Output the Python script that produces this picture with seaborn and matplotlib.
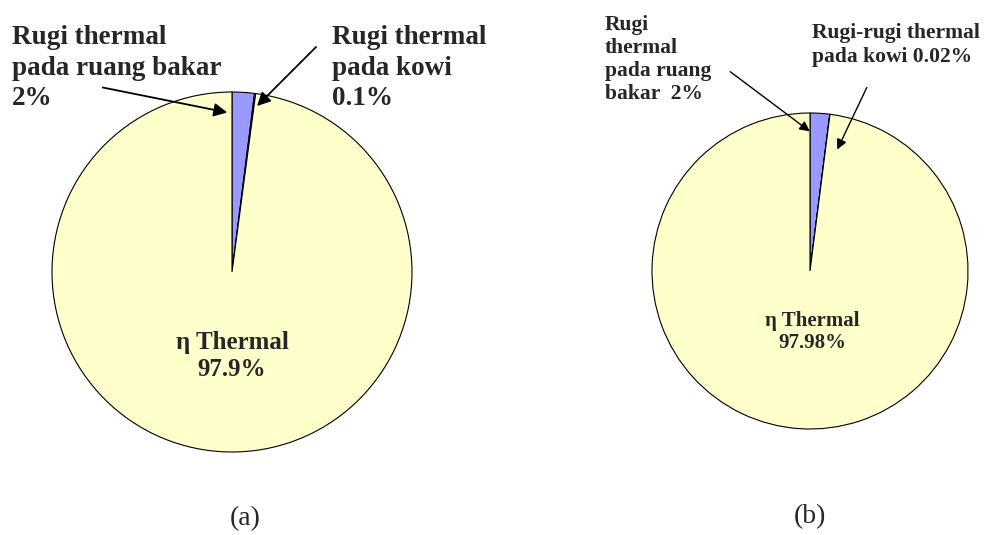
import matplotlib
matplotlib.use("Agg")
import matplotlib.pyplot as plt
import seaborn as sns

# Data: energy balance of the two furnaces (%)
labels = ["Rugi thermal pada ruang bakar", "Rugi thermal pada kowi", "η Thermal"]
values_a = [2, 0.1, 97.9]
values_b = [2, 0.02, 97.98]
colors = ["#9999FF", "#333366", "#FFFFCC"]

sns.set_theme(style="white")
plt.rcParams["font.family"] = ["Liberation Serif", "DejaVu Serif"]

fig = plt.figure(figsize=(9.94, 5.35), dpi=100)
W, H = 994, 535


def pie_axes(cx, cy, r):
    # axes placed by pixel centre/radius of the pie
    return fig.add_axes([(cx - r) / W, (H - cy - r) / H, 2 * r / W, 2 * r / H])


def draw_pie(ax, values):
    ax.pie(values, colors=colors, startangle=90, counterclock=False,
           wedgeprops=dict(edgecolor="black", linewidth=0.8))
    ax.set_xlim(-1, 1)
    ax.set_ylim(-1, 1)
    ax.set_aspect("equal")
    ax.axis("off")


# ------------------------------------------
# (a)
# ------------------------------------------
ax1 = pie_axes(232, 272, 180)
draw_pie(ax1, values_a)
fs_a = 19.5
ax1.text(-1.222, 1.37, "Rugi thermal\npada ruang bakar\n2%", ha="left", va="top",
         fontsize=fs_a, fontweight="bold", linespacing=1.27, clip_on=False)
ax1.text(0.556, 1.37, "Rugi thermal\npada kowi\n0.1%", ha="left", va="top",
         fontsize=fs_a, fontweight="bold", linespacing=1.27, clip_on=False)
ax1.annotate("", xy=(-0.011, 0.883), xytext=(-0.733, 1.028),
             arrowprops=dict(arrowstyle="-|>", color="black", lw=1.3, mutation_scale=20),
             annotation_clip=False)
ax1.annotate("", xy=(0.128, 0.911), xytext=(0.478, 1.261),
             arrowprops=dict(arrowstyle="-|>", color="black", lw=1.3, mutation_scale=20),
             annotation_clip=False)
ax1.text(0, -0.394, "η Thermal", ha="center", va="center", fontsize=18, fontweight="bold")
ax1.text(0, -0.544, "97.9%", ha="center", va="center", fontsize=18, fontweight="bold")

# ------------------------------------------
# (b)
# ------------------------------------------
ax2 = pie_axes(810, 271, 158)
draw_pie(ax2, values_b)
fs_b = 15.5
ax2.text(-1.297, 1.62, "Rugi\nthermal\npada ruang\nbakar  2%", ha="left", va="top",
         fontsize=fs_b, fontweight="bold", linespacing=1.19, clip_on=False)
ax2.text(0.013, 1.57, "Rugi-rugi thermal\npada kowi 0.02%", ha="left", va="top",
         fontsize=fs_b, fontweight="bold", linespacing=1.25, clip_on=False)
ax2.annotate("", xy=(0.013, 0.873), xytext=(-0.519, 1.272),
             arrowprops=dict(arrowstyle="-|>", color="black", lw=1.0, mutation_scale=15),
             annotation_clip=False)
ax2.annotate("", xy=(0.165, 0.753), xytext=(0.367, 1.177),
             arrowprops=dict(arrowstyle="-|>", color="black", lw=1.0, mutation_scale=15),
             annotation_clip=False)
ax2.text(0.013, -0.316, "η Thermal", ha="center", va="center", fontsize=15, fontweight="bold")
ax2.text(0.013, -0.456, "97.98%", ha="center", va="center", fontsize=15, fontweight="bold")

# subfigure captions
fig.text(245 / W, (H - 519) / H, "(a)", ha="center", va="center", fontsize=20)
fig.text(810 / W, (H - 517) / H, "(b)", ha="center", va="center", fontsize=20)

fig.savefig("out.png", dpi=100, facecolor="white")
